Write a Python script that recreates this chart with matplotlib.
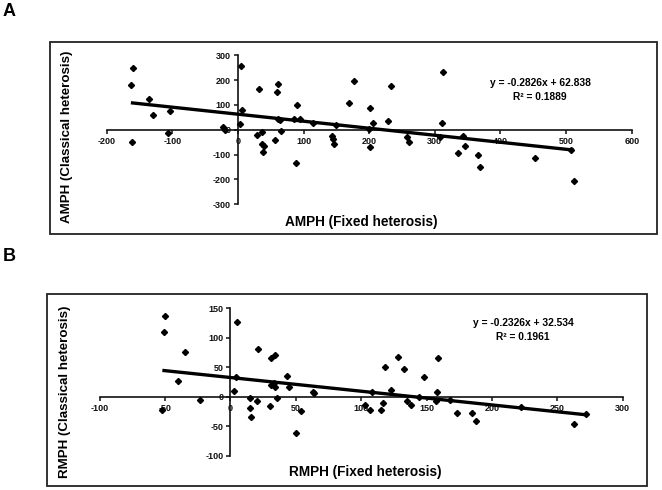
import matplotlib
matplotlib.use("Agg")
import matplotlib.pyplot as plt
from matplotlib.patches import Rectangle
import numpy as np

plt.rcParams['font.family'] = ['Liberation Sans', 'DejaVu Sans']
plt.rcParams['font.weight'] = 'bold'

# ---------------- Panel A data (AMPH) ----------------
amph_fixed = [-160, -163, -162, -136, -129, -103, -107, -22, -20, 5, 7, 3,
              32, 29, 36, 36, 40, 38, 61, 60, 61, 65, 57, 90, 85, 95, 88,
              64, 115, 144, 145, 146, 149, 169, 177, 202, 206, 200, 202,
              229, 234, 258, 260, 313, 311, 308, 343, 346, 336, 366, 369,
              452, 512, 508]
amph_classical = [247, 182, -50, 123, 61, 74, -12, 13, 0, 257, 81, 22,
                  166, -19, -7, -59, -66, -91, 186, 153, 45, -3, -43, 99, 45, 45, -135,
                  40, 28, -23, -39, -59, 20, 108, 198, 88, 27, 2, -68,
                  35, 177, -27, -50, 232, 27, -27, -23, -65, -92, -103, -149,
                  -114, -208, -82]
amph_slope, amph_intercept = -0.2826, 62.838
amph_eq = "y = -0.2826x + 62.838"
amph_r2 = "R\u00b2 = 0.1889"
amph_xticks = [-200, -100, 0, 100, 200, 300, 400, 500, 600]
amph_yticks = [-300, -200, -100, 0, 100, 200, 300]

# ---------------- Panel B data (RMPH) ----------------
rmph_fixed = [-50, -51, -35, -40, -23, -52, 5, 3, 21, 31, 34, 31, 33, 34, 36,
              43, 45, 30, 15, 20, 15, 16, 50, 54, 63, 64, 4,
              103, 107, 115, 117, 108, 118, 123, 128, 133, 135, 138, 144,
              148, 157, 158, 159, 168, 173, 185, 188, 222, 263, 272]
rmph_classical = [137, 110, 75, 27, -6, -23, 127, 10, 81, 65, 71, 20, 23, 17, -2,
                  35, 17, -16, -2, -7, -19, -34, -61, -24, 8, 7, 33,
                  -14, -22, -23, -11, 8, 51, 12, 68, 47, -7, -14, 0,
                  34, -8, 8, 65, -6, -27, -27, -41, -18, -47, -29]
rmph_slope, rmph_intercept = -0.2326, 32.534
rmph_eq = "y = -0.2326x + 32.534"
rmph_r2 = "R\u00b2 = 0.1961"
rmph_xticks = [-100, -50, 0, 50, 100, 150, 200, 250, 300]
rmph_yticks = [-100, -50, 0, 50, 100, 150]

W, H = 662, 490
fig = plt.figure(figsize=(W / 100, H / 100), dpi=100)


def px_rect(l, t, r, b):
    return [l / W, 1 - b / H, (r - l) / W, (b - t) / H]


def frame(l, t, r, b):
    x, y, w, h = px_rect(l, t, r, b)
    fig.add_artist(Rectangle((x, y), w, h, transform=fig.transFigure,
                             fill=False, edgecolor='#222222', linewidth=1.3))


def panel(rect, xs, ys, slope, intercept, xticks, yticks):
    ax = fig.add_axes(rect)
    ax.set_xlim(xticks[0], xticks[-1])
    ax.set_ylim(yticks[0], yticks[-1])
    ax.patch.set_alpha(0)
    for s in ['top', 'right']:
        ax.spines[s].set_visible(False)
    ax.spines['left'].set_position(('data', 0))
    ax.spines['bottom'].set_position(('data', 0))
    for s in ['left', 'bottom']:
        ax.spines[s].set_linewidth(1.2)
        ax.spines[s].set_color('#111111')
    ax.set_xticks(xticks)
    ax.set_yticks(yticks)
    ax.set_xticklabels([str(v) for v in xticks])
    ax.set_yticklabels([str(v) for v in yticks])
    ax.tick_params(direction='out', length=3, width=1.1, labelsize=6.5,
                   pad=2, colors='#111111')
    for lbl in ax.get_xticklabels() + ax.get_yticklabels():
        lbl.set_fontweight('bold')
    ax.plot(xs, ys, linestyle='none', marker='D', markersize=3.1,
            color='black', clip_on=False, zorder=3)
    xl = np.array([min(xs), max(xs)])
    ax.plot(xl, slope * xl + intercept, color='black', linewidth=2.4,
            solid_capstyle='butt', zorder=4)
    return ax


# Panel A
frame(50, 42, 657.3, 234)
panel(px_rect(106.6, 55.3, 631.7, 204.3), amph_fixed, amph_classical,
      amph_slope, amph_intercept, amph_xticks, amph_yticks)
fig.text(540 / W, 1 - 82.7 / H, amph_eq, ha='center', va='center',
         fontsize=7.4, fontweight='bold')
fig.text(540 / W, 1 - 96.7 / H, amph_r2, ha='center', va='center',
         fontsize=7.4, fontweight='bold')
fig.text(361 / W, 1 - 221.7 / H, "AMPH (Fixed heterosis)", ha='center',
         va='center', fontsize=9.8, fontweight='bold')
fig.text(67 / W, 1 - 137 / H, "AMPH (Classical heterosis)", ha='center',
         va='center', rotation=90, fontsize=9.6, fontweight='bold')
fig.text(9 / W, 1 - 12 / H, "A", ha='center', va='center', fontsize=13,
         fontweight='bold')

# Panel B
frame(46.7, 294, 647.3, 486)
panel(px_rect(99.6, 308.3, 622.7, 455.6), rmph_fixed, rmph_classical,
      rmph_slope, rmph_intercept, rmph_xticks, rmph_yticks)
fig.text(523 / W, 1 - 322.7 / H, rmph_eq, ha='center', va='center',
         fontsize=7.4, fontweight='bold')
fig.text(523 / W, 1 - 336.7 / H, rmph_r2, ha='center', va='center',
         fontsize=7.4, fontweight='bold')
fig.text(365 / W, 1 - 471.7 / H, "RMPH (Fixed heterosis)", ha='center',
         va='center', fontsize=9.8, fontweight='bold')
fig.text(65 / W, 1 - 391.5 / H, "RMPH (Classical heterosis)", ha='center',
         va='center', rotation=90, fontsize=9.6, fontweight='bold')
fig.text(9 / W, 1 - 256 / H, "B", ha='center', va='center', fontsize=13,
         fontweight='bold')

fig.savefig("out.png", dpi=100)
